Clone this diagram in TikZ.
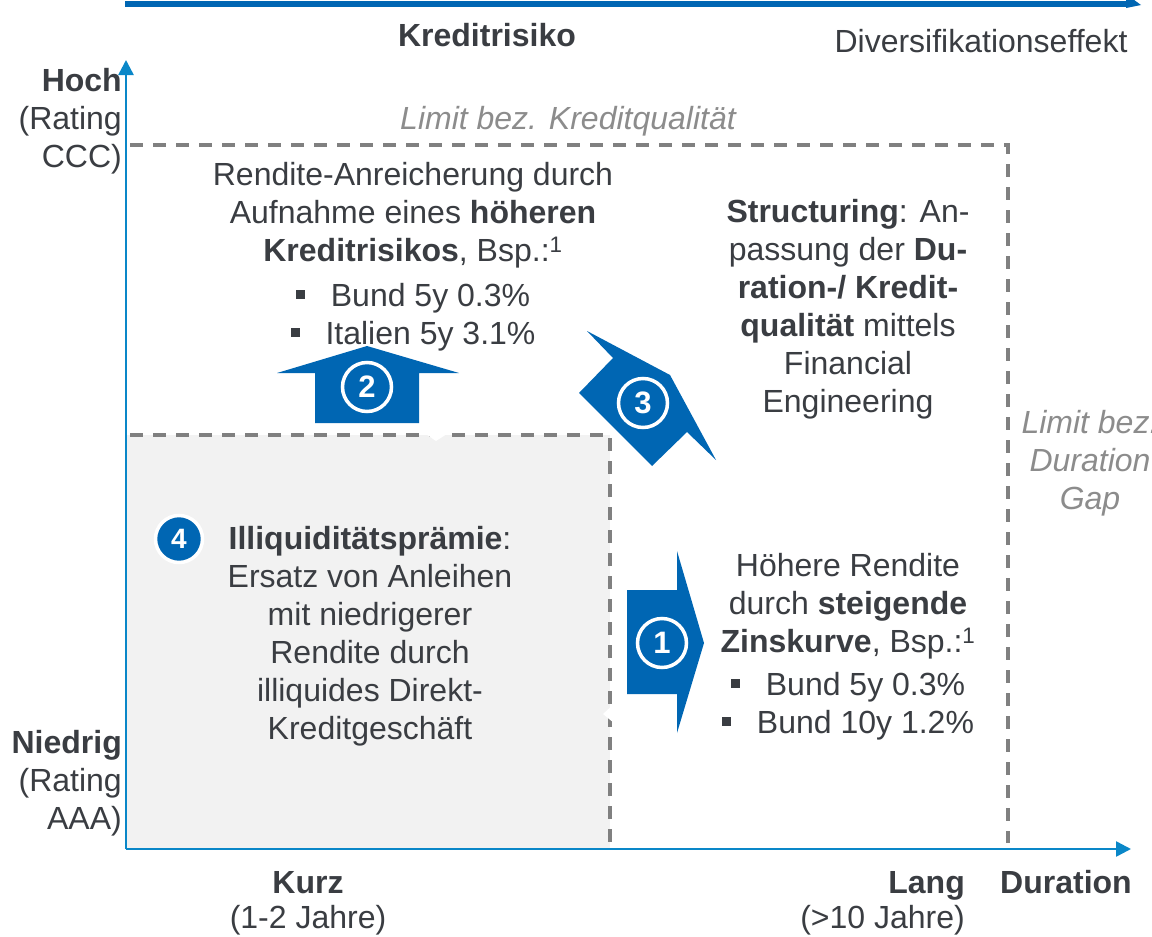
\documentclass[tikz,border=0pt]{standalone}
\usepackage{fontspec}
\setmainfont{Liberation Sans}
\usetikzlibrary{arrows.meta}
\definecolor{arrblue}{HTML}{0066B3}
\definecolor{axblue}{HTML}{0A87C8}
\definecolor{txtc}{HTML}{3A3D42}
\definecolor{dgray}{HTML}{808080}
\definecolor{lgray}{HTML}{F2F2F2}
\definecolor{itgray}{HTML}{8C8C8C}
\newcommand\fsz{\fontsize{32}{38}\selectfont}
\newcommand\bul{\raisebox{7.5pt}{\rule{9pt}{9pt}}\hspace{26pt}}
\tikzset{
  dashline/.style={draw=dgray, line width=3.5pt, dash pattern=on 13pt off 10pt},
  axisline/.style={draw=axblue, line width=2.5pt, -{Triangle[length=15pt,width=15pt]}},
  bigarrow/.style={fill=arrblue},
  numcirc/.style={circle, fill=arrblue, draw=white, line width=3.5pt, minimum size=49pt, inner sep=0pt, text=white, font=\fontsize{31}{31}\selectfont\bfseries},
  txt/.style={text=txtc, font=\fsz, align=center, inner sep=0pt, anchor=north},
  txtr/.style={text=txtc, font=\fsz, align=right, inner sep=0pt, anchor=north east},
  limtxt/.style={text=itgray, font=\fsz\itshape, align=center, inner sep=0pt, anchor=north},
}
\begin{document}
\begin{tikzpicture}[x=1pt,y=-1pt]
\useasboundingbox (0,0) rectangle (1152,937);
\fill[white] (0,0) rectangle (1152,937);

% top bar
\fill[arrblue] (125,1) rectangle (1130,7);
\fill[arrblue] (1126,-6) -- (1141,5) -- (1126,8) -- cycle;

% gray box (illiquidity)
\fill[lgray] (127,435) rectangle (610,849);
\draw[dashline] (130,435) -- (610,435) -- (610,849);
% big limit box
\draw[dashline] (130,145) -- (1008,145) -- (1008,843);
% callout notches
\fill[white] (423,432) -- (450,432) -- (436,441) -- cycle;
\fill[white] (614,704) -- (603,714) -- (614,723) -- cycle;

% axes
\coordinate (O) at (126,849);
\coordinate (ytip) at (126,60);
\coordinate (xtip) at (1131,849);
\draw[axisline] (O) -- (ytip);
\draw[axisline] (O) -- (xtip);

% arrows
\fill[bigarrow] (367,346) -- (459,373) -- (419,373) -- (419,423) -- (315,423) -- (315,373) -- (277,373) -- cycle;
\fill[bigarrow] (587,331) -- (670,375) -- (716,460) -- (687,432) -- (652,466) -- (579,393) -- (613,358) -- cycle;
\fill[bigarrow] (704,643) -- (677,733) -- (677,694) -- (627,694) -- (627,590) -- (677,590) -- (677,551) -- cycle;

% number circles
\node[numcirc] (n2) at (367,387) {2};
\node[numcirc] (n3) at (643,403) {3};
\node[numcirc] (n1) at (662,643) {1};
\node[numcirc, minimum size=47pt, font=\fontsize{28}{28}\selectfont\bfseries] (n4) at (179,539) {4};

% axis labels
\node[txt, font=\fsz\bfseries] (kr) at (487,19.4) {\strut Kreditrisiko};
\node[txt] (div) at (981,25.4) {\strut Diversifikationseffekt};
\node[txtr] (hoch) at (122,64.4) {\strut\textbf{Hoch}\\(Rating\\CCC)};
\node[txtr] (nied) at (122,726.4) {\strut\textbf{Niedrig}\\(Rating\\AAA)};
\node[txt] (kurz) at (308,867) {\strut\textbf{Kurz}\\[-3pt](1-2 Jahre)};
\node[txtr] (lang) at (965,867) {\strut\textbf{Lang}\\[-3pt](>10 Jahre)};
\node[txt, font=\fsz\bfseries] (dur) at (1066,866.4) {\strut Duration};

% limit labels
\node[limtxt] (limk) at (568,102.4) {\strut Limit bez. Kreditqualität};
\node[limtxt] (limd) at (1090,406.4) {\strut Limit bez.\\Duration\\Gap};

% text blocks
\node[txt] (t2) at (413,158.4) {\strut Rendite-Anreicherung durch\\Aufnahme eines \textbf{höheren}\\\textbf{Kreditrisikos}, Bsp.:\textsuperscript{1}\\[7pt]\bul Bund 5y 0.3\%\\\bul Italien 5y 3.1\%};
\node[txt] (t3) at (848,195.4) {\strut\textbf{Structuring}: An-\\passung der \textbf{Du-}\\\textbf{ration-/ Kredit-}\\\textbf{qualität} mittels\\Financial\\Engineering};
\node[txt] (t4) at (370,522.4) {\strut\textbf{Illiquiditätsprämie}:\\Ersatz von Anleihen\\mit niedrigerer\\Rendite durch\\illiquides Direkt-\\Kreditgeschäft};
\node[txt] (t1) at (848,549.4) {\strut Höhere Rendite\\durch \textbf{steigende}\\\textbf{Zinskurve}, Bsp.:\textsuperscript{1}\\[5pt]\bul Bund 5y 0.3\%\\\bul Bund 10y 1.2\%};
\end{tikzpicture}
\end{document}
